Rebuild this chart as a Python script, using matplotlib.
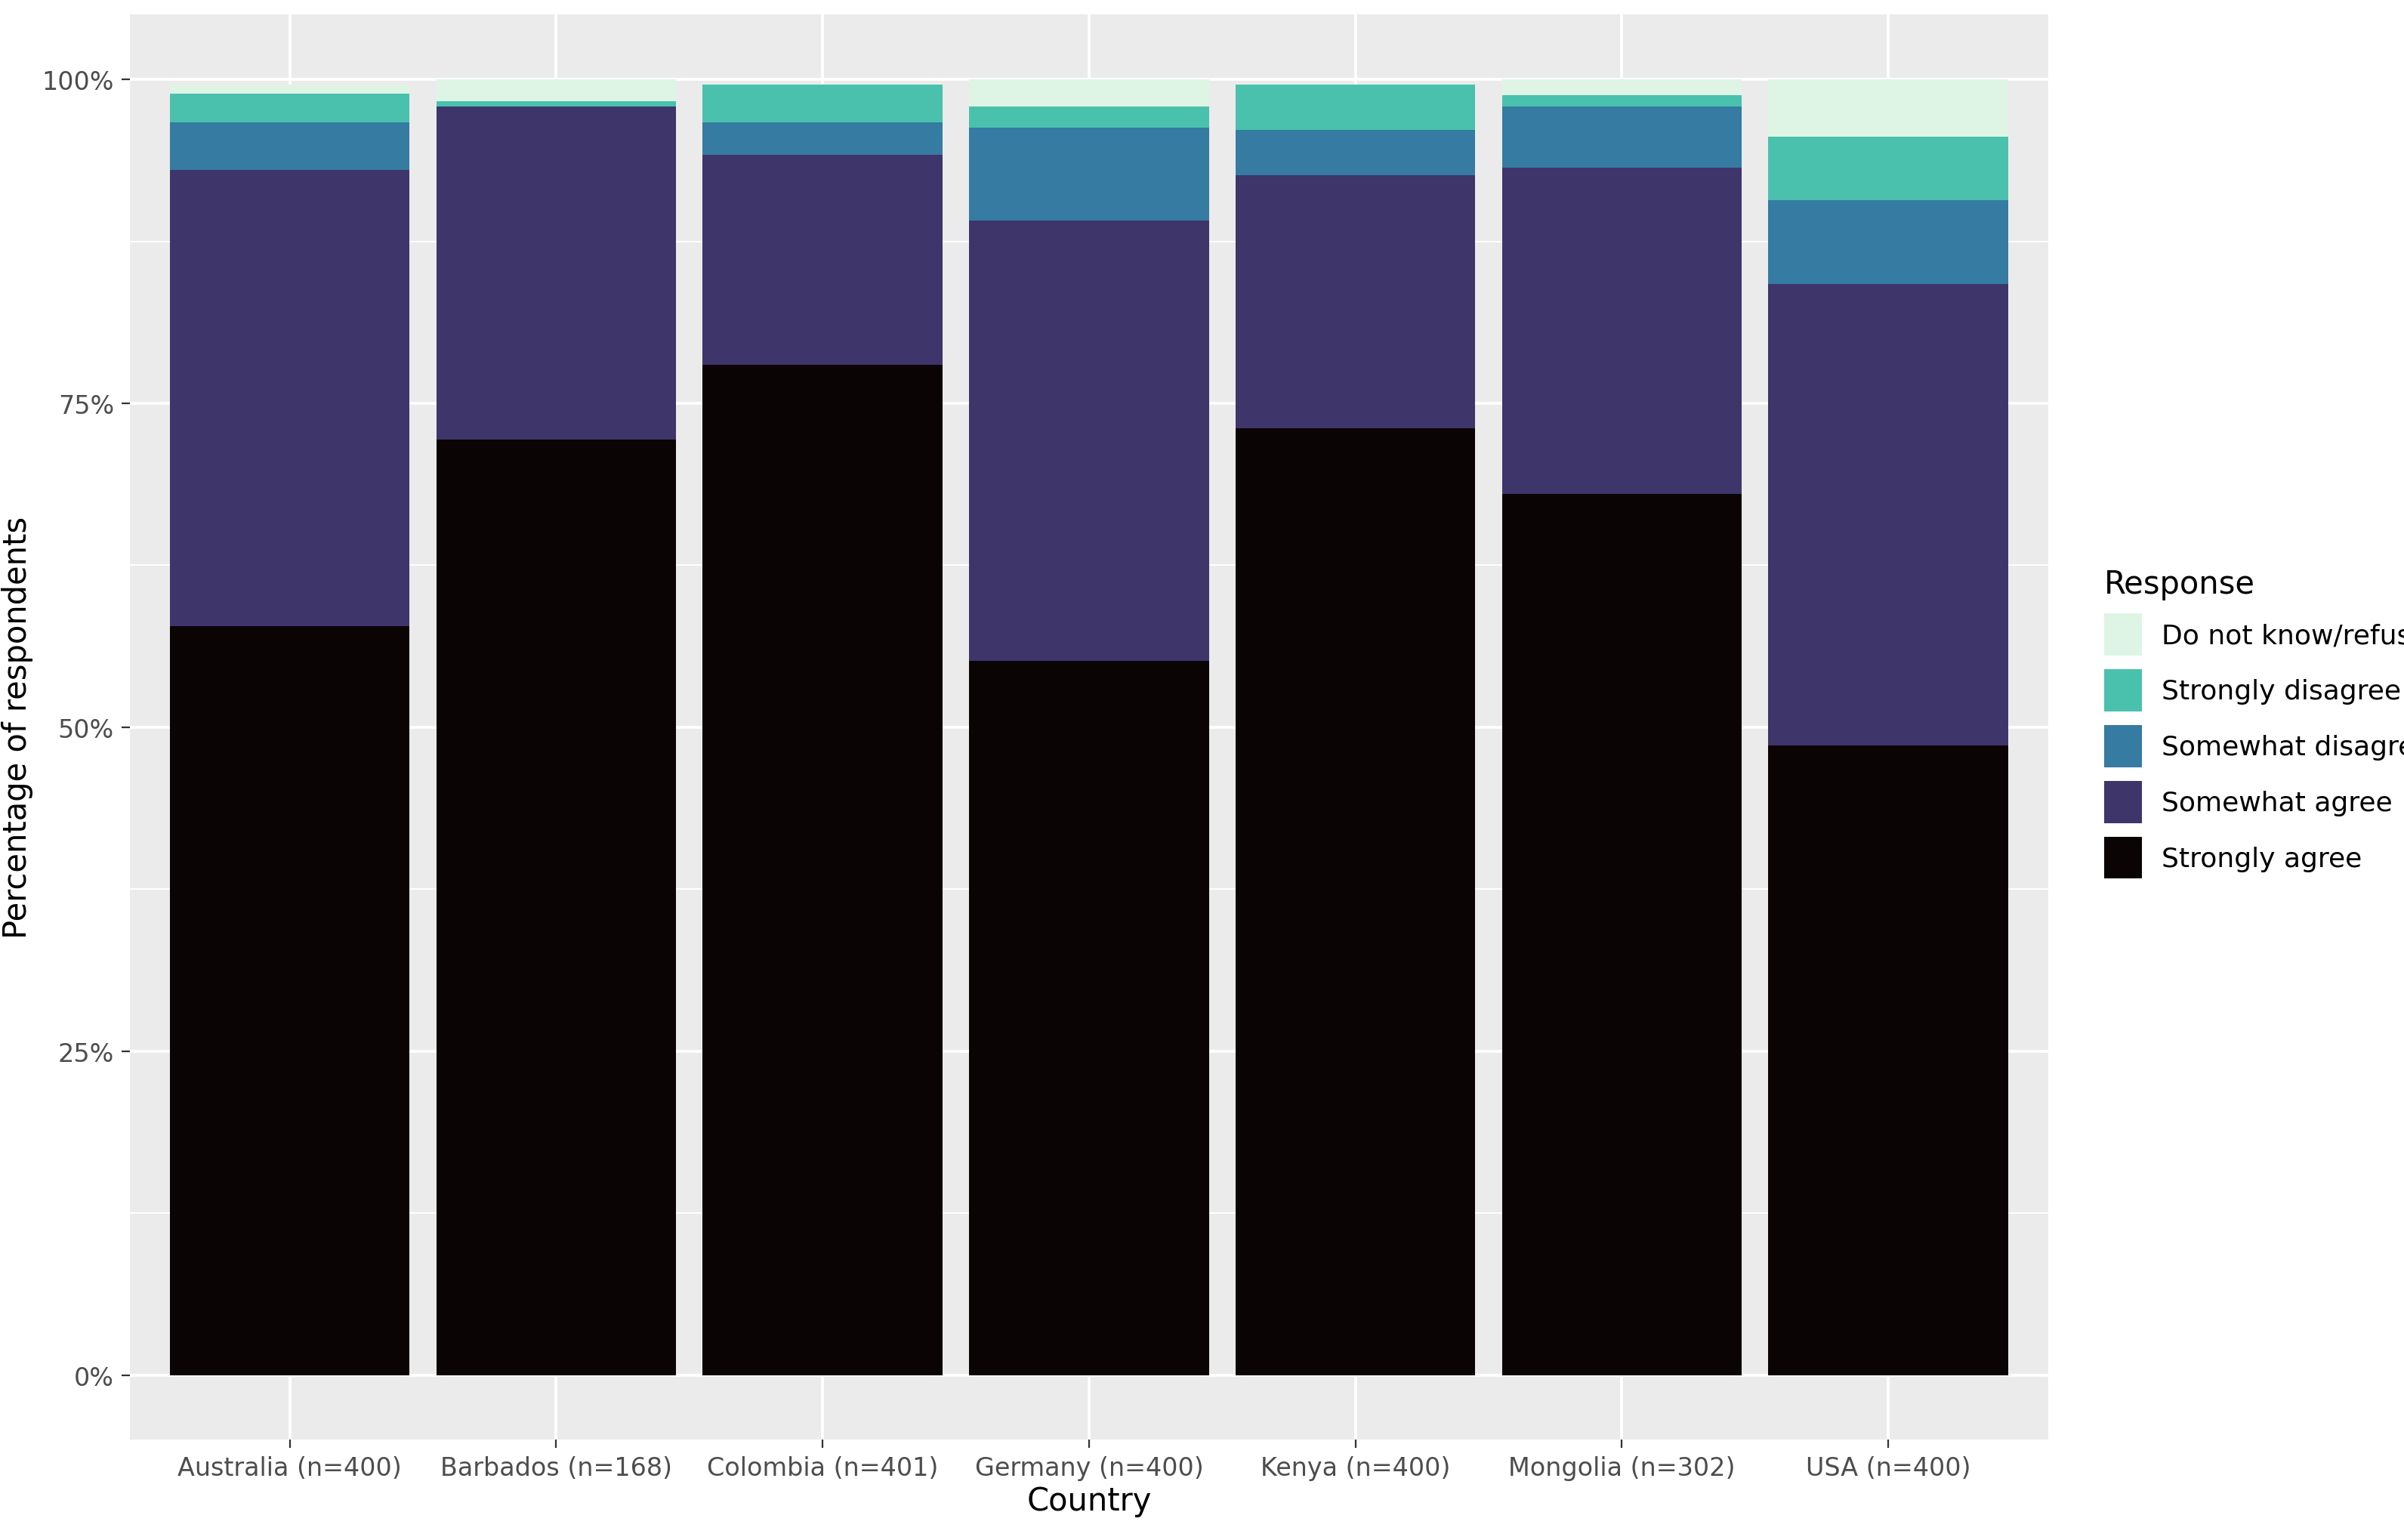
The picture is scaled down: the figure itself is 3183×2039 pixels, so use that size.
import matplotlib
matplotlib.use("Agg")
import matplotlib.pyplot as plt
import numpy as np

countries = ["Australia (n=400)", "Barbados (n=168)", "Colombia (n=401)", "Germany (n=400)",
             "Kenya (n=400)", "Mongolia (n=302)", "USA (n=400)"]
responses = ["Strongly agree", "Somewhat agree", "Somewhat disagree", "Strongly disagree", "Do not know/refused"]
strongly_agree = [57.8, 72.2, 78.0, 55.1, 73.1, 68.0, 48.6]
somewhat_agree = [35.2, 25.7, 16.2, 34.0, 19.5, 25.2, 35.6]
somewhat_disagree = [3.7, 0.0, 2.5, 7.2, 3.5, 4.7, 6.5]
strongly_disagree = [2.2, 0.4, 2.9, 1.6, 3.5, 0.9, 4.9]
dont_know = [0.7, 1.7, 0.0, 2.1, 0.0, 1.2, 4.4]
colors = ["#0B0405", "#3E356B", "#357BA2", "#49C1AD", "#DEF5E5"]

series = [strongly_agree, somewhat_agree, somewhat_disagree, strongly_disagree, dont_know]

plt.rcParams["font.family"] = "Liberation Sans Narrow"
fig = plt.figure(figsize=(15.915, 10.2), dpi=200)
ax = fig.add_axes([0.054, 0.065, 0.798, 0.925])
ax.set_facecolor("#EBEBEB")
x = np.arange(1, len(countries) + 1)
bottom = np.zeros(len(countries))
handles = []
for vals, c, lab in zip(series, colors, responses):
    v = np.array(vals) / 100
    h = ax.bar(x, v, 0.9, bottom=bottom, color=c, label=lab, zorder=3)
    handles.append(h)
    bottom += v

ax.set_xlim(0.4, 7.6)
ax.set_ylim(-0.05, 1.05)
ax.set_yticks([0, 0.25, 0.5, 0.75, 1.0])
ax.set_yticklabels(["0%", "25%", "50%", "75%", "100%"])
ax.set_yticks([0.125, 0.375, 0.625, 0.875], minor=True)
ax.set_xticks(x)
ax.set_xticklabels(countries)
ax.grid(True, which="major", color="white", linewidth=1.4, zorder=0)
ax.grid(True, which="minor", axis="y", color="white", linewidth=0.7, zorder=0)
for s in ax.spines.values():
    s.set_visible(False)
ax.tick_params(axis="both", which="major", colors="#4D4D4D", labelsize=12, length=4, color="#333333")
ax.tick_params(axis="y", which="minor", length=0)
ax.set_xlabel("Country", fontsize=15, labelpad=2)
ax.set_ylabel("Percentage of respondents", fontsize=15)

leg = fig.legend(handles[::-1], responses[::-1], loc="center left", bbox_to_anchor=(0.865, 0.53),
                 frameon=False, title="Response", fontsize=13, title_fontsize=15,
                 handlelength=1.4, handleheight=2.0, handletextpad=0.7, alignment="left")
fig.savefig("out.png", dpi=200)
